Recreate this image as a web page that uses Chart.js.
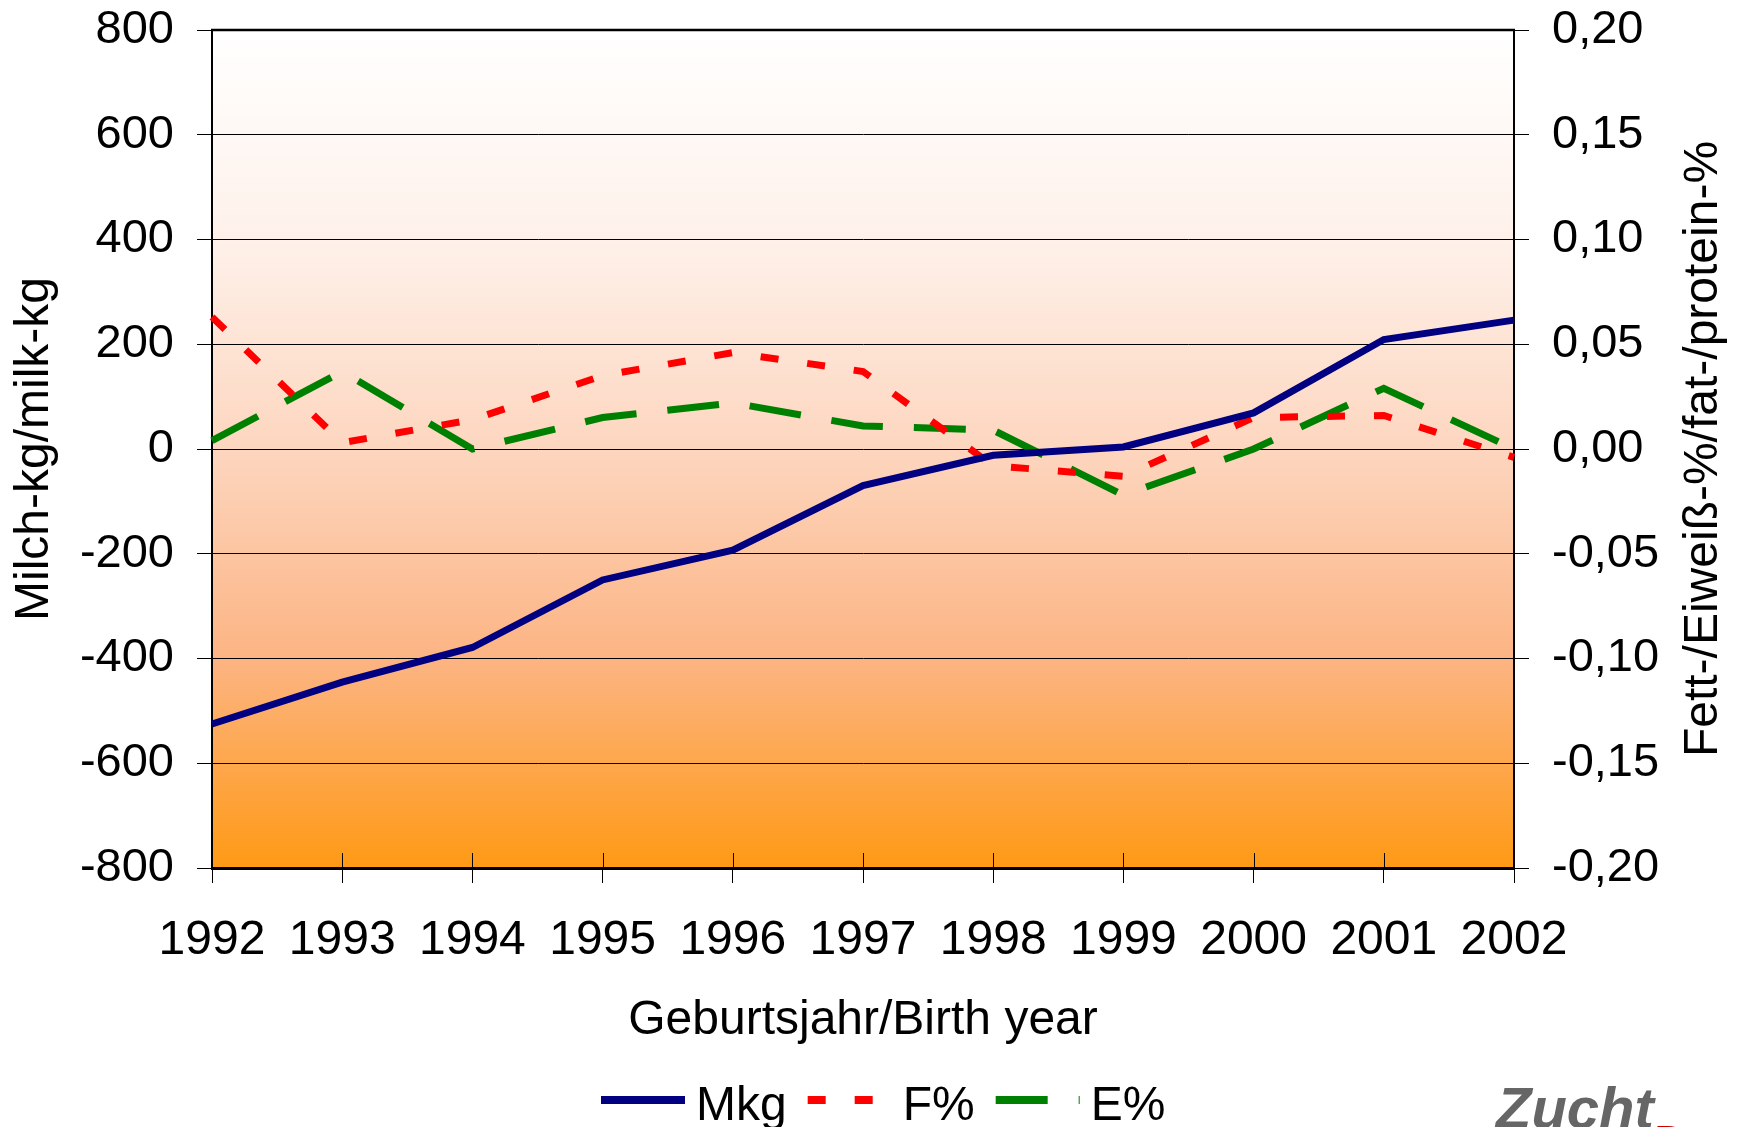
<!DOCTYPE html>
<html>
<head>
<meta charset="utf-8">
<script src="https://cdn.jsdelivr.net/npm/chart.js@4.4.1/dist/chart.umd.min.js"></script>
<style>
  html, body { margin: 0; padding: 0; background: #fff; }
  canvas { display: block; }
</style>
</head>
<body>
<canvas id="zuchtChart" width="1742" height="1127"></canvas>
<script>
const years = ['1992', '1993', '1994', '1995', '1996', '1997', '1998', '1999', '2000', '2001', '2002'];
const milkKg = [-525, -445, -379, -250, -193, -70, -12, 4, 69, 209, 246];
const fatPct = [0.063, 0.003, 0.014, 0.035, 0.046, 0.037, -0.008, -0.013, 0.015, 0.016, -0.004];
const proteinPct = [0.004, 0.037, 0.000, 0.015, 0.022, 0.011, 0.009, -0.022, 0.000, 0.029, 0.000];
const leftTickLabels = ['-800', '-600', '-400', '-200', '0', '200', '400', '600', '800'];
const rightTickLabels = ['-0,20', '-0,15', '-0,10', '-0,05', '0,00', '0,05', '0,10', '0,15', '0,20'];

const FONT = "'Liberation Sans', Arial, sans-serif";
Chart.defaults.font.family = FONT;
Chart.defaults.color = '#000';

// Hintergrund, Rahmen, rechter Achsentitel, Legende, Logo
const plotDecor = {
  id: 'plotDecor',
  beforeDraw(chart) {
    const { ctx, chartArea: a } = chart;
    const g = ctx.createLinearGradient(0, a.top, 0, a.bottom);
    g.addColorStop(0, '#ffffff');
    g.addColorStop(0.25, '#fef1ea');
    g.addColorStop(0.5, '#fdd6bf');
    g.addColorStop(0.75, '#fcb483');
    g.addColorStop(1, '#ff9a15');
    ctx.save();
    ctx.fillStyle = g;
    ctx.fillRect(a.left, a.top, a.right - a.left, a.bottom - a.top);
    ctx.restore();
  },
  beforeDatasetsDraw(chart) {
    const { ctx, chartArea: a } = chart;
    const xs = chart.scales.x;
    ctx.save();
    ctx.strokeStyle = '#000';
    ctx.lineWidth = 2.5;
    ctx.beginPath();
    ctx.moveTo(a.left - 1, a.top);
    ctx.lineTo(a.right + 1, a.top);
    ctx.stroke();
    // Teilstriche nach innen
    ctx.lineWidth = 1;
    ctx.beginPath();
    xs.ticks.forEach((t, i) => {
      const px = Math.round(xs.getPixelForTick(i)) + 0.5;
      ctx.moveTo(px, a.bottom);
      ctx.lineTo(px, a.bottom - 15);
    });
    ctx.stroke();
    ctx.restore();
  },
  afterDraw(chart) {
    const { ctx, chartArea: a } = chart;
    ctx.save();
    ctx.fillStyle = '#000';
    ctx.font = '48px ' + FONT;
    ctx.textAlign = 'center';
    ctx.textBaseline = 'middle';
    ctx.translate(1704, (a.top + a.bottom) / 2);
    ctx.rotate(-Math.PI / 2);
    ctx.fillText('Fett-/Eiweiß-%/fat-/protein-%', 0, 0);
    ctx.restore();

    // Legende
    ctx.save();
    ctx.font = '48px ' + FONT;
    ctx.textBaseline = 'alphabetic';
    let x0 = 601;
    const ly = 1100;
    chart.data.datasets.forEach(ds => {
      ctx.strokeStyle = ds.borderColor;
      ctx.lineWidth = ds.borderWidth + 1;
      ctx.setLineDash(ds.borderDash || []);
      ctx.beginPath();
      ctx.moveTo(x0, ly);
      ctx.lineTo(x0 + 84, ly);
      ctx.stroke();
      ctx.setLineDash([]);
      ctx.fillStyle = '#000';
      const tx = x0 + 84 + 11;
      ctx.fillText(ds.label, tx, 1120);
      x0 = tx + ctx.measureText(ds.label).width + 21;
    });
    ctx.restore();

    // Logo
    ctx.save();
    ctx.font = 'italic bold 58px ' + FONT;
    ctx.fillStyle = '#666666';
    ctx.fillText('Zucht', 1496, 1128);
    ctx.font = 'italic bold 50px ' + FONT;
    ctx.fillStyle = '#cc0000';
    ctx.fillText('Data', 1650, 1161);
    ctx.restore();
  }
};

const noLabelPadding = s => { s.paddingTop = 0; s.paddingBottom = 0; };

new Chart(document.getElementById('zuchtChart'), {
  type: 'line',
  data: {
    labels: years,
    datasets: [
      {
        label: 'Mkg',
        data: milkKg,
        yAxisID: 'y',
        borderColor: '#000080',
        borderWidth: 7,
        pointRadius: 0,
        tension: 0
      },
      {
        label: 'F%',
        data: fatPct,
        yAxisID: 'y1',
        borderColor: '#ff0000',
        borderWidth: 7,
        borderDash: [18, 29],
        pointRadius: 0,
        tension: 0
      },
      {
        label: 'E%',
        data: proteinPct,
        yAxisID: 'y1',
        borderColor: '#008000',
        borderWidth: 7,
        borderDash: [52, 31],
        pointRadius: 0,
        tension: 0
      }
    ]
  },
  options: {
    responsive: false,
    animation: false,
    layout: { padding: { top: 30, left: 0, right: 0, bottom: 0 } },
    plugins: {
      legend: { display: false },
      tooltip: { enabled: false }
    },
    scales: {
      x: {
        offset: false,
        grid: { display: true, drawOnChartArea: false, color: '#000', lineWidth: 1, tickLength: 15 },
        border: { display: true, color: '#000', width: 3 },
        ticks: { color: '#000', font: { size: 48 }, padding: 29, maxRotation: 0, autoSkip: false },
        title: {
          display: true,
          text: 'Geburtsjahr/Birth year',
          color: '#000',
          font: { size: 48 },
          padding: { top: 0, bottom: 77 }
        },
        afterFit: s => { s.height = 259; }
      },
      y: {
        position: 'left',
        min: -800,
        max: 800,
        ticks: {
          stepSize: 200,
          color: '#000',
          font: { size: 47 },
          padding: 23,
          callback: (v, i) => leftTickLabels[i]
        },
        grid: { color: '#000', lineWidth: 1, tickLength: 15 },
        border: { color: '#000', width: 2 },
        title: {
          display: true,
          text: 'Milch-kg/milk-kg',
          color: '#000',
          font: { size: 48 },
          padding: { top: 6, bottom: 0 }
        },
        afterFit: s => { s.width = 212; noLabelPadding(s); }
      },
      y1: {
        position: 'right',
        min: -0.2,
        max: 0.2,
        ticks: {
          stepSize: 0.05,
          color: '#000',
          font: { size: 47 },
          padding: 23,
          callback: (v, i) => rightTickLabels[i]
        },
        grid: { drawOnChartArea: false, color: '#000', lineWidth: 1, tickLength: 15 },
        border: { color: '#000', width: 2 },
        afterFit: s => { s.width = 228; noLabelPadding(s); }
      }
    }
  },
  plugins: [plotDecor]
});
</script>
</body>
</html>
